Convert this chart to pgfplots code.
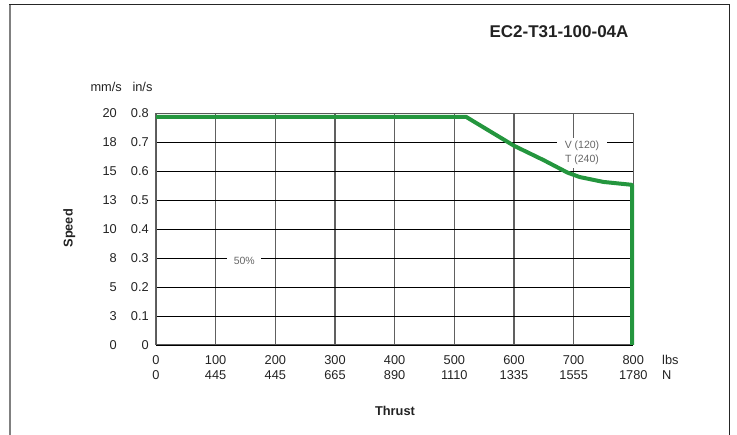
\documentclass[border=0pt]{standalone}
\usepackage{pgfplots}
\pgfplotsset{compat=1.18}
\usepackage{fontspec}
\setmainfont{Liberation Sans}
\definecolor{curvegreen}{RGB}{36,150,62}
\definecolor{txt}{RGB}{34,34,34}
\begin{document}
\begin{tikzpicture}[x=1pt,y=-1pt]
\path[use as bounding box] (0,0) rectangle (737,435);
\draw[gray, line width=2pt] (9.8,435) -- (9.8,4);
\draw[black!85, line width=1.2pt] (9,4.5) -- (729.5,4.5) -- (729.5,435);
\begin{axis}[
  at={(156pt,-345pt)}, anchor=south west,
  width=477.3pt, height=231.7pt, scale only axis,
  xmin=0, xmax=800, ymin=0, ymax=0.8,
  xtick={0,100,200,300,400,500,600,700,800},
  ytick={0,0.1,0.2,0.3,0.4,0.5,0.6,0.7,0.8},
  xticklabels={{0\\0},{100\\445},{200\\445},{300\\665},{400\\890},{500\\1110},{600\\1335},{700\\1555},{800\\1780}},
  yticklabels={
    {0\makebox[32pt][r]{0}},
    {3\makebox[32pt][r]{0.1}},
    {5\makebox[32pt][r]{0.2}},
    {8\makebox[32pt][r]{0.3}},
    {10\makebox[32pt][r]{0.4}},
    {13\makebox[32pt][r]{0.5}},
    {15\makebox[32pt][r]{0.6}},
    {18\makebox[32pt][r]{0.7}},
    {20\makebox[32pt][r]{0.8}}},
  major tick length=0pt,
  grid=major,
  x grid style={gray!75!black, line width=1.1pt},
  y grid style={black, line width=0.8pt},
  axis line style={black!65, line width=1pt},
  tick label style={font=\fontsize{12.8}{15}\selectfont, text=txt},
  xticklabel style={align=center, anchor=north, inner sep=0pt, yshift=-10.4pt},
  yticklabel style={anchor=east, inner sep=0pt, xshift=-7pt},
  clip=false,
]
\node[fill=white, inner xsep=6.5pt, inner ysep=1pt, yshift=-2.5pt,
      font=\fontsize{10.5}{12}\selectfont, text=black!60] at (axis cs:148,0.3) {50\%};
\node[fill=white, align=center, inner xsep=7.5pt, inner ysep=3pt,
      font=\fontsize{10.5}{14.3}\selectfont, text=black!60] at (axis cs:714,0.664) {V (120)\\T (240)};
\addplot[curvegreen, line width=4pt, line join=round] coordinates {
  (0,0.788) (519.5,0.788) (600,0.688) (650,0.638) (690,0.595) (710,0.58)
  (750,0.563) (798,0.553) (798,0)};
\end{axis}
\node[font=\bfseries\fontsize{17}{20}\selectfont, text=txt] at (559,31.7) {EC2-T31-100-04A};
\node[font=\fontsize{12.8}{15}\selectfont, text=txt] at (106.2,86.7) {mm/s};
\node[font=\fontsize{12.8}{15}\selectfont, text=txt] at (142.5,86.7) {in/s};
\node[rotate=90, font=\bfseries\fontsize{12.8}{15}\selectfont, text=txt] at (69.3,228.3) {Speed};
\node[font=\bfseries\fontsize{12.8}{15}\selectfont, text=txt] at (395,410.7) {Thrust};
\node[anchor=west, inner sep=0pt, font=\fontsize{12.8}{15}\selectfont, text=txt] at (662,360) {lbs};
\node[anchor=west, inner sep=0pt, font=\fontsize{12.8}{15}\selectfont, text=txt] at (662,375) {N};
\end{tikzpicture}
\end{document}
